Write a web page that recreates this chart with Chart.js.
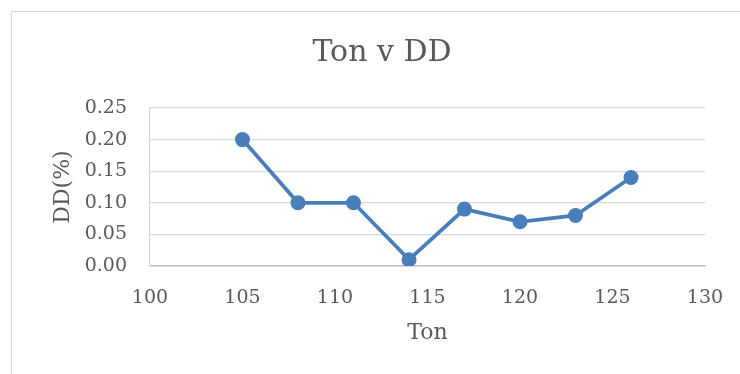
<!DOCTYPE html>
<html>
<head>
<meta charset="utf-8">
<script src="https://cdn.jsdelivr.net/npm/chart.js@4"></script>
<style>
  html, body { margin: 0; padding: 0; background: #fff; }
  #wrap { position: relative; width: 740px; height: 374px; overflow: hidden; }
  #frame { position: absolute; left: 11px; top: 11px; width: 760px; height: 400px;
           border: 1px solid #d9d9d9; box-sizing: border-box; }
  canvas { position: absolute; left: 0; top: 0; }
</style>
</head>
<body>
<div id="wrap">
  <div id="frame"></div>
  <canvas id="c" width="740" height="374"></canvas>
</div>
<script>
// Ton (x) against DD in percent (y)
const tonValues = [105, 108, 111, 114, 117, 120, 123, 126];
const ddValues  = [0.20, 0.10, 0.10, 0.01, 0.09, 0.07, 0.08, 0.14];
const xTicks = [100, 105, 110, 115, 120, 125, 130];
const yTicks = [0.00, 0.05, 0.10, 0.15, 0.20, 0.25];

const FONT = "'DejaVu Serif', 'Liberation Serif', serif";
const GREY = '#595959';
const BLUE = '#4a7ebb';

const points = tonValues.map((t, i) => ({ x: t, y: ddValues[i] }));

new Chart(document.getElementById('c'), {
  type: 'scatter',
  data: {
    datasets: [{
      data: points,
      showLine: true,
      borderColor: BLUE,
      backgroundColor: BLUE,
      borderWidth: 3.75,
      pointRadius: 7.5,
      pointHoverRadius: 7.5,
      pointBorderWidth: 0,
      tension: 0
    }]
  },
  options: {
    responsive: false,
    animation: false,
    events: [],
    // left padding keeps the title centred over the framed area
    layout: { padding: { left: 59, right: 35, top: 0, bottom: 0 } },
    plugins: {
      legend: { display: false },
      tooltip: { enabled: false },
      title: {
        display: true,
        text: 'Ton v DD',
        color: GREY,
        font: { family: FONT, size: 30, weight: 'normal', lineHeight: 1.2 },
        padding: { top: 35, bottom: 37 }
      }
    },
    scales: {
      x: {
        type: 'linear',
        min: xTicks[0],
        max: xTicks[xTicks.length - 1],
        afterBuildTicks: s => { s.ticks = xTicks.map(v => ({ value: v })); },
        grid: { display: false, drawTicks: false },
        border: { display: true, color: '#bfbfbf', width: 1.5 },
        ticks: {
          color: GREY, padding: 21, maxRotation: 0,
          font: { family: FONT, size: 19 },
          callback: v => String(v)
        },
        title: {
          display: true, text: 'Ton', color: GREY,
          font: { family: FONT, size: 22, lineHeight: 1.2 },
          padding: { top: 0, bottom: 28 }
        },
        afterFit: s => { s.height = 108; s.paddingLeft = 0; s.paddingRight = 0; }
      },
      y: {
        type: 'linear',
        min: yTicks[0],
        max: yTicks[yTicks.length - 1],
        afterBuildTicks: s => { s.ticks = yTicks.map(v => ({ value: v })); },
        grid: { color: '#d9d9d9', lineWidth: 1.3, drawTicks: false },
        border: { display: true, color: '#d9d9d9', width: 1.3 },
        ticks: {
          color: GREY, padding: 23,
          font: { family: FONT, size: 19 },
          callback: v => v.toFixed(2)
        },
        title: {
          display: true, text: 'DD(%)', color: GREY,
          font: { family: FONT, size: 22, lineHeight: 1.2 },
          padding: { top: -8.7, bottom: 0 }
        },
        afterFit: s => { s.width = 91; }
      }
    }
  }
});
</script>
</body>
</html>
